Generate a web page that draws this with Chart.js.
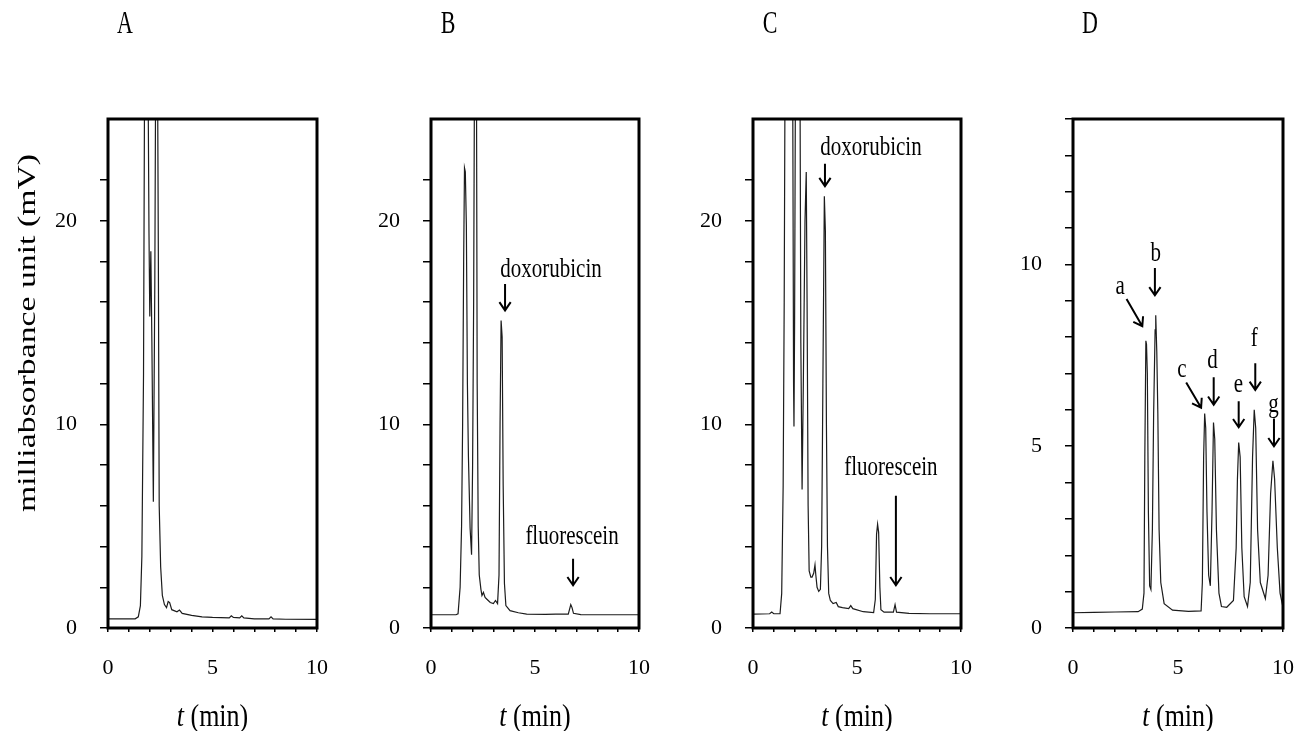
<!DOCTYPE html>
<html lang="en">
<head>
<meta charset="UTF-8">
<title>Chromatograms A-D</title>
<script src="https://cdn.jsdelivr.net/npm/chart.js"></script>
<style>
  html, body { margin: 0; padding: 0; background: #fff; }
  #wrap { position: relative; width: 1297px; height: 731px; overflow: hidden; }
  #wrap canvas { position: absolute; top: 0; }
</style>
</head>
<body>
<div id="wrap">
  <canvas id="panelA"></canvas>
  <canvas id="panelB"></canvas>
  <canvas id="panelC"></canvas>
  <canvas id="panelD"></canvas>
</div>
<script>
// ---- data: [t (min), milliabsorbance (mV)] ----
// values above the axis maximum are off-scale peaks, clipped at the frame
const traceA = [
  [0, 0.45], [1.3, 0.45], [1.45, 0.55], [1.55, 1.1], [1.62, 3.5], [1.7, 12.5],
  [1.76, 30], [1.9, 30], [1.96, 19.5], [2.0, 15.3], [2.05, 18.5], [2.1, 14],
  [2.17, 6.2], [2.24, 17], [2.29, 30], [2.36, 30], [2.41, 18], [2.45, 6],
  [2.52, 3], [2.6, 1.6], [2.7, 1.15], [2.8, 1.0], [2.88, 1.3], [2.95, 1.25],
  [3.05, 0.9], [3.3, 0.8], [3.42, 0.88], [3.55, 0.72], [4.0, 0.62], [4.5, 0.55],
  [5.0, 0.52], [5.8, 0.5], [5.9, 0.6], [6.0, 0.52], [6.3, 0.5], [6.4, 0.6],
  [6.5, 0.5], [7.0, 0.45], [7.7, 0.45], [7.8, 0.55], [7.9, 0.45], [8.5, 0.43], [10, 0.42]
];
const traceB = [
  [0, 0.65], [1.2, 0.65], [1.3, 0.7], [1.4, 2.0], [1.47, 5], [1.52, 10], [1.57, 18],
  [1.61, 22.6], [1.65, 22.4], [1.7, 19.8], [1.75, 12], [1.8, 8.4], [1.88, 4.9],
  [1.95, 3.6], [2.0, 8], [2.05, 16], [2.1, 30], [2.18, 30], [2.22, 12], [2.27, 5],
  [2.32, 2.6], [2.4, 1.9], [2.45, 1.6], [2.52, 1.75], [2.6, 1.5], [2.7, 1.4],
  [2.85, 1.25], [3.0, 1.2], [3.1, 1.35], [3.2, 1.2], [3.27, 2.6], [3.32, 10],
  [3.37, 15.1], [3.42, 14.3], [3.47, 7], [3.53, 2.2], [3.6, 1.1], [3.8, 0.85],
  [4.2, 0.75], [4.6, 0.68], [5.5, 0.67], [6.0, 0.68], [6.6, 0.68], [6.72, 1.15],
  [6.78, 1.0], [6.85, 0.72], [7.2, 0.66], [8, 0.65], [10, 0.65]
];
const traceC = [
  [0, 0.68], [0.8, 0.7], [0.9, 0.78], [1.0, 0.7], [1.3, 0.7], [1.38, 1.7], [1.45, 7],
  [1.5, 16], [1.55, 30], [1.9, 30], [1.95, 12], [1.97, 9.9], [2.0, 15], [2.05, 30],
  [2.25, 30], [2.3, 14], [2.36, 6.8], [2.42, 12], [2.5, 20], [2.56, 22.4], [2.6, 16],
  [2.65, 6], [2.7, 2.8], [2.78, 2.5], [2.84, 2.5], [2.92, 2.7], [2.98, 3.1], [3.02, 2.6],
  [3.08, 2.0], [3.16, 1.8], [3.24, 1.9], [3.3, 4], [3.36, 12], [3.43, 21.2], [3.48, 19.5],
  [3.53, 10], [3.58, 4], [3.64, 1.7], [3.72, 1.35], [3.85, 1.2], [4.0, 1.25], [4.1, 1.05],
  [4.3, 1.0], [4.6, 0.95], [4.7, 1.1], [4.8, 0.95], [5.3, 0.8], [5.8, 0.76], [5.88, 1.4],
  [5.94, 4.6], [5.99, 5.1], [6.04, 4.7], [6.1, 2], [6.15, 0.9], [6.3, 0.78], [6.75, 0.78],
  [6.83, 1.15], [6.9, 0.78], [7.5, 0.72], [8.5, 0.7], [10, 0.7]
];
const traceD = [
  [0, 0.42], [1, 0.43], [2, 0.44], [3.1, 0.45], [3.3, 0.52], [3.38, 0.96], [3.42, 4.7],
  [3.47, 7.9], [3.5, 7.8], [3.54, 7.0], [3.59, 3.2], [3.65, 1.16], [3.71, 1.06],
  [3.78, 2.7], [3.84, 5.9], [3.91, 8.2], [3.94, 8.6], [3.99, 7.6], [4.04, 5.9],
  [4.1, 2.7], [4.18, 1.25], [4.34, 0.67], [4.74, 0.49], [5.5, 0.46], [6.1, 0.47],
  [6.16, 1.25], [6.22, 4.7], [6.27, 5.9], [6.32, 5.5], [6.38, 3.2], [6.46, 1.45],
  [6.54, 1.16], [6.62, 3.2], [6.69, 5.65], [6.75, 5.2], [6.83, 2.7], [6.95, 0.96],
  [7.07, 0.59], [7.32, 0.57], [7.64, 0.76], [7.77, 2.2], [7.83, 4.1], [7.89, 5.1],
  [7.96, 4.7], [8.04, 2.2], [8.15, 0.86], [8.31, 0.59], [8.44, 1.25], [8.55, 4.7],
  [8.63, 6.0], [8.7, 5.5], [8.79, 2.7], [8.92, 1.25], [9.16, 0.81], [9.29, 1.45],
  [9.41, 3.7], [9.52, 4.6], [9.6, 4.1], [9.73, 2.2], [9.86, 0.96], [10, 0.57]
];

const xTicks = [0, 5, 10];
const yTicksABC = [0, 10, 20];
const yTicksD = [0, 5, 10];

// peak labels: text centre, arrow tail -> arrow tip (all in data units)
const notesB = [
  { text: 'doxorubicin', tx: 5.77, ty: 17.6, from: [3.56, 16.9], to: [3.56, 15.6] },
  { text: 'fluorescein', tx: 6.78, ty: 4.5, from: [6.83, 3.4], to: [6.83, 2.1] }
];
const notesC = [
  { text: 'doxorubicin', tx: 5.67, ty: 23.6, from: [3.46, 22.8], to: [3.46, 21.7] },
  { text: 'fluorescein', tx: 6.63, ty: 7.9, from: [6.87, 6.5], to: [6.87, 2.1] }
];
const notesD = [
  { text: 'a', tx: 2.25, ty: 9.4, from: [2.55, 9.05], to: [3.3, 8.3] },
  { text: 'b', tx: 3.94, ty: 10.3, from: [3.9, 9.9], to: [3.9, 9.15] },
  { text: 'c', tx: 5.19, ty: 7.1, from: [5.39, 6.75], to: [6.1, 6.06] },
  { text: 'd', tx: 6.64, ty: 7.35, from: [6.7, 6.9], to: [6.7, 6.14] },
  { text: 'e', tx: 7.88, ty: 6.7, from: [7.89, 6.24], to: [7.89, 5.52] },
  { text: 'f', tx: 8.63, ty: 7.95, from: [8.68, 7.28], to: [8.68, 6.55] },
  { text: 'g', tx: 9.55, ty: 6.15, from: [9.57, 5.76], to: [9.57, 5.0] }
];

const SERIF = '"Liberation Serif", "Times New Roman", Times, serif';

// text in the source figure is slightly stretched vertically
function stretchText(ctx, str, x, y, size, sy, opts = {}) {
  ctx.save();
  ctx.translate(x, y);
  ctx.scale(1, sy);
  if (opts.rotate) ctx.rotate(opts.rotate);
  ctx.font = (opts.italic ? 'italic ' : '') + size + 'px ' + SERIF;
  ctx.fillStyle = '#000';
  ctx.textAlign = opts.align || 'center';
  ctx.textBaseline = 'middle';
  ctx.fillText(str, 0, 0);
  ctx.restore();
}

function arrow(ctx, x0, y0, x1, y1) {
  const ang = Math.atan2(y1 - y0, x1 - x0);
  const hl = 10, ha = 0.6;
  ctx.beginPath();
  ctx.moveTo(x0, y0);
  ctx.lineTo(x1, y1);
  ctx.moveTo(x1 - hl * Math.cos(ang - ha), y1 - hl * Math.sin(ang - ha));
  ctx.lineTo(x1, y1);
  ctx.lineTo(x1 - hl * Math.cos(ang + ha), y1 - hl * Math.sin(ang + ha));
  ctx.stroke();
}

const decor = {
  id: 'decor',
  afterDatasetsDraw(chart, args, o) {
    const { ctx, chartArea: a, scales: { x, y } } = chart;
    ctx.save();
    // frame
    ctx.strokeStyle = '#000';
    ctx.lineWidth = 3;
    ctx.strokeRect(a.left, a.top, a.right - a.left, a.bottom - a.top);

    // panel letter
    stretchText(ctx, o.letter, a.left + 17, 25, 22, 1.45);

    // x title: italic t + " (min)"
    ctx.font = 'italic 26px ' + SERIF;
    const w1 = ctx.measureText('t').width;
    ctx.font = '26px ' + SERIF;
    const w2 = ctx.measureText(' (min)').width;
    const x0 = (a.left + a.right) / 2 - (w1 + w2) / 2;
    stretchText(ctx, 't', x0, 718, 26, 1.2, { italic: true, align: 'left' });
    stretchText(ctx, ' (min)', x0 + w1, 718, 26, 1.2, { align: 'left' });

    // y title only on the first panel
    if (o.yTitle) {
      stretchText(ctx, o.yTitle, 28, 333, 25, 1.35, { rotate: -Math.PI / 2 });
    }

    // peak labels and arrows
    ctx.lineWidth = 2;
    (o.notes || []).forEach(n => {
      stretchText(ctx, n.text, x.getPixelForValue(n.tx), y.getPixelForValue(n.ty), 21, 1.35);
      arrow(ctx,
        x.getPixelForValue(n.from[0]), y.getPixelForValue(n.from[1]),
        x.getPixelForValue(n.to[0]), y.getPixelForValue(n.to[1]));
    });
    ctx.restore();
  }
};

// plot-area placement on the page
const PLOT_TOP = 119, PLOT_BOTTOM = 628, AXIS_W = 108, CANVAS_W = 330, PAGE_H = 731;

function makePanel(id, plotLeft, plotWidth, letter, trace, yMax, yStep, yLabels, notes, yTitle) {
  const canvas = document.getElementById(id);
  canvas.width = CANVAS_W;
  canvas.height = PAGE_H;
  canvas.style.left = (plotLeft - AXIS_W) + 'px';

  new Chart(canvas, {
    type: 'line',
    data: {
      datasets: [{
        data: trace.map(p => ({ x: p[0], y: p[1] })),
        borderColor: '#1c1c1c',
        borderWidth: 1.2,
        pointRadius: 0,
        tension: 0,
        fill: false
      }]
    },
    plugins: [decor],
    options: {
      responsive: false,
      animation: false,
      devicePixelRatio: 1,
      events: [],
      layout: {
        padding: { left: 0, top: PLOT_TOP, bottom: 0, right: CANVAS_W - AXIS_W - plotWidth }
      },
      plugins: {
        legend: { display: false },
        tooltip: { enabled: false },
        decor: { letter, notes, yTitle }
      },
      scales: {
        x: {
          type: 'linear',
          min: 0,
          max: 10,
          afterFit: s => {
            s.height = PAGE_H - PLOT_BOTTOM;
            s.paddingLeft = 0;
            s.paddingRight = 0;
          },
          border: { display: false },
          grid: { drawOnChartArea: false, drawTicks: true, tickLength: 4, color: '#000', lineWidth: 1.5 },
          ticks: {
            stepSize: 1,
            autoSkip: false,
            maxRotation: 0,
            padding: 23,
            color: '#000',
            font: { family: SERIF, size: 22 },
            callback: v => (xTicks.includes(v) ? v : '')
          }
        },
        y: {
          type: 'linear',
          min: 0,
          max: yMax,
          afterFit: s => {
            s.width = AXIS_W;
            s.paddingTop = 0;
            s.paddingBottom = 0;
          },
          afterBuildTicks: s => { s.ticks = s.ticks.filter(t => t.value % yStep === 0); },
          border: { display: false },
          grid: { drawOnChartArea: false, drawTicks: true, tickLength: 8, color: '#000', lineWidth: 1.5 },
          ticks: {
            stepSize: yStep,
            autoSkip: false,
            padding: 23,
            color: '#000',
            font: { family: SERIF, size: 22 },
            callback: v => (yLabels.includes(v) ? v : '')
          }
        }
      }
    }
  });
}

makePanel('panelA', 108, 209, 'A', traceA, 25, 2, yTicksABC, [], 'milliabsorbance unit (mV)');
makePanel('panelB', 431, 208, 'B', traceB, 25, 2, yTicksABC, notesB);
makePanel('panelC', 753, 208, 'C', traceC, 25, 2, yTicksABC, notesC);
makePanel('panelD', 1073, 210, 'D', traceD, 14, 1, yTicksD, notesD);
</script>
</body>
</html>
